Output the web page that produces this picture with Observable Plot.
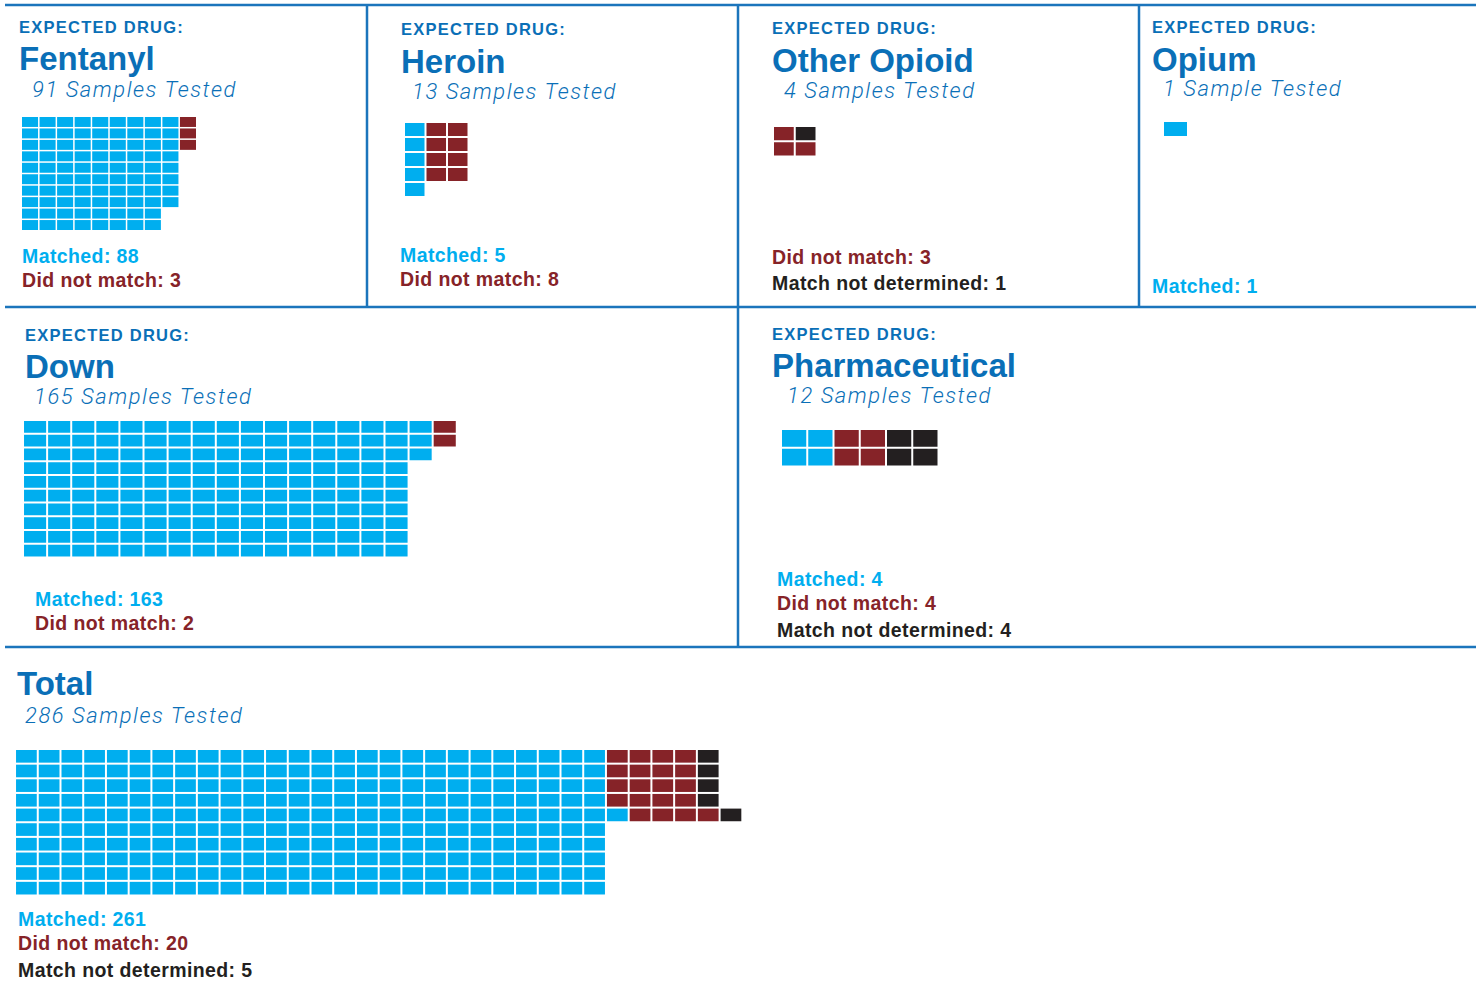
<!DOCTYPE html>
<html><head><meta charset="utf-8">
<script src="https://cdn.jsdelivr.net/npm/d3@7"></script>
<script src="https://cdn.jsdelivr.net/npm/@observablehq/plot@0.6"></script>
<style>
html,body{margin:0;padding:0;background:#fff;}
#page{position:relative;width:1481px;height:994px;overflow:hidden;background:#fff;}
.waffle{position:absolute;line-height:0;}
.waffle svg{display:block;}
#overlay{position:absolute;left:0;top:0;}
</style></head><body><div id="page"></div>
<script>
// ---------------- DATA ----------------
const drugs = ["Fentanyl", "Heroin", "Other Opioid", "Opium", "Down", "Pharmaceutical"];
const matched = [88, 5, 0, 1, 163, 4];
const didNotMatch = [3, 8, 3, 0, 2, 4];
const notDetermined = [0, 0, 1, 0, 0, 4];
const categories = ["Matched", "Did not match", "Match not determined"];
const categoryColors = ["#00aeef", "#862328", "#231f20"];

// ---------------- LAYOUT / STYLE (not data) ----------------
const headerBlue = "#0a6fb7";
const lineBlue = "#1b75bc";
const layout = {
  "Fentanyl":       {x: 19,   ed: 33,   title: 70,  subX: 32,   sub: 96.5, wx: 22,   wy: 117, px: 17.55, py: 11.45, gap: 1.5, rows: [10, 10, 10], mode: "newcol", lx: 22,   labels: [263, 287]},
  "Heroin":         {x: 401,  ed: 34.5, title: 72.5, subX: 412, sub: 98.5, wx: 405,  wy: 123, px: 21.5,  py: 15,    gap: 2,   rows: [5, 4, 4],    mode: "newcol", lx: 400,  labels: [262, 286]},
  "Other Opioid":   {x: 772,  ed: 34,   title: 71.5, subX: 784, sub: 98,   wx: 774,  wy: 127, px: 21.75, py: 15.25, gap: 2,   rows: [2, 2],       mode: "tail",   lx: 772,  labels: [264, 290]},
  "Opium":          {x: 1152, ed: 33,   title: 70.5, subX: 1163, sub: 96,  wx: 1164, wy: 122, px: 24.5,  py: 15.5,  gap: 1.5, rows: [1, 1, 1],    mode: "newcol", lx: 1152, labels: [293]},
  "Down":           {x: 25,   ed: 341,  title: 378, subX: 34,   sub: 404,  wx: 24,   wy: 421, px: 24.1,  py: 13.75, gap: 2,   rows: [10, 10, 10], mode: "newcol", lx: 35,   labels: [606, 630]},
  "Pharmaceutical": {x: 772,  ed: 340,  title: 376.5, subX: 787, sub: 403, wx: 782,  wy: 430, px: 26.25, py: 18.75, gap: 2,   rows: [2, 2, 2],    mode: "newcol", lx: 777,  labels: [586, 610, 637]},
  "Total":          {x: 17,   ed: null, title: 695, subX: 25,   sub: 722.5, wx: 16,  wy: 750, px: 22.73, py: 14.65, gap: 2,   rows: [10, 5],      mode: "tail",   lx: 18,   labels: [926, 950, 977]}
};

// ---------------- BUILD ----------------
const totals = [d3.sum(matched), d3.sum(didNotMatch), d3.sum(notDetermined)];
const panels = drugs.map((d, i) => ({name: d, counts: [matched[i], didNotMatch[i], notDetermined[i]], expected: true}));
panels.push({name: "Total", counts: totals, expected: false});

function waffleCells(counts, rowsPer, mode) {
  const cells = [];
  if (mode === "tail") {
    // full columns of the first category (rowsPer[0] tall), then the remainder
    // of every category fills a block rowsPer[1] tall, column by column, bottom-up
    const full = Math.floor(counts[0] / rowsPer[0]);
    for (let i = 0; i < full * rowsPer[0]; i++) {
      cells.push({col: Math.floor(i / rowsPer[0]), row: i % rowsPer[0], category: categories[0]});
    }
    const rows = rowsPer[1];
    let p = 0;
    counts.forEach((n, k) => {
      const rest = k === 0 ? n - full * rowsPer[0] : n;
      for (let i = 0; i < rest; i++, p++) {
        cells.push({col: full + Math.floor(p / rows), row: rows - 1 - (p % rows), category: categories[k]});
      }
    });
  } else {
    let start = 0;
    counts.forEach((n, k) => {
      if (!n) return;
      const rows = rowsPer[k];
      for (let i = 0; i < n; i++) {
        cells.push({col: start + Math.floor(i / rows), row: i % rows, category: categories[k]});
      }
      start += Math.ceil(n / rows);
    });
  }
  return cells;
}

const page = document.getElementById("page");
const W = 1481, H = 994;
const svg = d3.select(page).append("svg").attr("id", "overlay").attr("width", W).attr("height", H);

// panel rules
const hLines = [5, 307, 647];
const vLines = [[367, 5, 307], [738, 5, 647], [1139, 5, 307]];
hLines.forEach(y => svg.append("line").attr("x1", 5).attr("x2", 1476).attr("y1", y).attr("y2", y)
  .attr("stroke", lineBlue).attr("stroke-width", 2.5));
vLines.forEach(([x, y1, y2]) => svg.append("line").attr("x1", x).attr("x2", x).attr("y1", y1).attr("y2", y2)
  .attr("stroke", lineBlue).attr("stroke-width", 2.5));

const boldFont = "'Liberation Sans', Arial, sans-serif";
const subFont = "Roboto, 'Liberation Sans', sans-serif";

panels.forEach(p => {
  const L = layout[p.name];
  const n = d3.sum(p.counts);
  if (p.expected) {
    svg.append("text").attr("x", L.x).attr("y", L.ed).text("EXPECTED DRUG:")
      .attr("fill", headerBlue).style("font-family", boldFont).style("font-weight", 700)
      .style("font-size", "16.5px").style("letter-spacing", "1.25px");
  }
  svg.append("text").attr("x", L.x).attr("y", L.title).text(p.name)
    .attr("fill", headerBlue).style("font-family", boldFont).style("font-weight", 700)
    .style("font-size", "33px");
  svg.append("text").attr("x", L.subX).attr("y", L.sub).text(`${n} Sample${n === 1 ? "" : "s"} Tested`)
    .attr("fill", headerBlue).style("font-family", subFont).style("font-weight", 300)
    .style("font-style", "italic").style("font-size", "22px").style("letter-spacing", "1.55px");

  // labels for non-zero categories
  let li = 0;
  p.counts.forEach((c, k) => {
    if (!c) return;
    svg.append("text").attr("x", L.lx).attr("y", L.labels[li++]).text(`${categories[k]}: ${c}`)
      .attr("fill", categoryColors[k]).style("font-family", boldFont).style("font-weight", 700)
      .style("font-size", "19.5px").style("letter-spacing", "0.4px");
  });

  // waffle
  const cells = waffleCells(p.counts, L.rows, L.mode);
  const ncols = d3.max(cells, d => d.col) + 1;
  const nrows = d3.max(cells, d => d.row) + 1;
  const chart = Plot.plot({
    width: ncols * L.px,
    height: nrows * L.py,
    margin: 0,
    x: {type: "band", domain: d3.range(ncols), padding: 0, round: false, axis: null},
    y: {type: "band", domain: d3.range(nrows), padding: 0, round: false, axis: null},
    color: {type: "ordinal", domain: categories, range: categoryColors},
    style: {background: "transparent", overflow: "visible"},
    marks: [
      Plot.cell(cells, {x: "col", y: "row", fill: "category",
        insetLeft: 0, insetTop: 0, insetRight: L.gap, insetBottom: L.gap})
    ]
  });
  const div = document.createElement("div");
  div.className = "waffle";
  div.style.left = L.wx + "px";
  div.style.top = L.wy + "px";
  div.appendChild(chart);
  page.appendChild(div);
});
</script>
</body></html>
